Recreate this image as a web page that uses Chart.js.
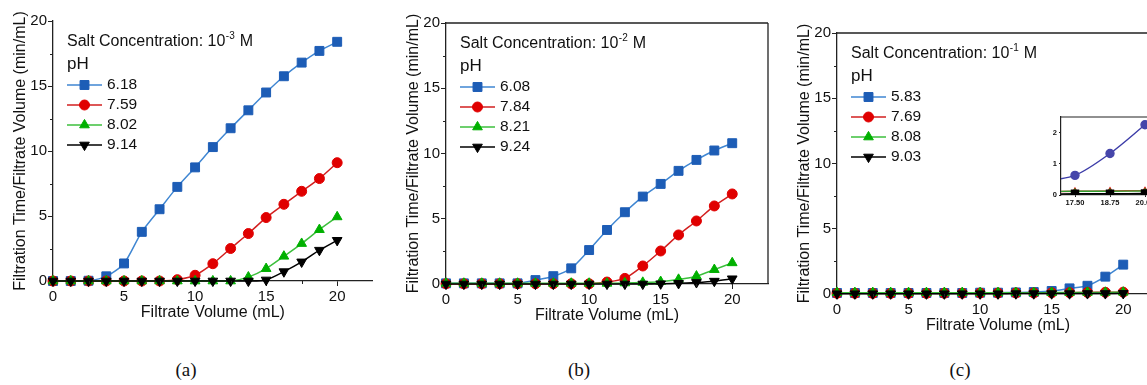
<!DOCTYPE html>
<html>
<head>
<meta charset="utf-8">
<script src="https://cdn.jsdelivr.net/npm/chart.js@4.4.1/dist/chart.umd.min.js"></script>
<style>
  html, body { margin: 0; padding: 0; background: #fff; overflow: hidden; width: 1147px; height: 385px; }
  canvas { position: absolute; top: 0; }
  .cap { position: absolute; top: 359px; width: 60px; margin-left: -30px; text-align: center;
         font-family: "Liberation Serif", serif; font-size: 19px; line-height: 22px; color: #111; }
</style>
</head>
<body>
<canvas id="chartA" width="380" height="330" style="left:0px"></canvas>
<canvas id="chartB" width="400" height="330" style="left:380px"></canvas>
<canvas id="chartC" width="400" height="340" style="left:780px"></canvas>
<canvas id="chartInset" width="170" height="112" style="left:1030px;top:100px"></canvas>
<div class="cap" style="left:186px">(a)</div>
<div class="cap" style="left:579px">(b)</div>
<div class="cap" style="left:960px">(c)</div>

<script>
// filtrate volume (mL) at each reading
var volume = [0, 1.25, 2.5, 3.75, 5, 6.25, 7.5, 8.75, 10, 11.25, 12.5, 13.75, 15, 16.25, 17.5, 18.75, 20];

// 10^-3 M salt
var phA = ['6.18', '7.59', '8.02', '9.14'];
var a1 = [0, 0, 0.02, 0.36, 1.35, 3.78, 5.52, 7.24, 8.74, 10.3, 11.75, 13.13, 14.5, 15.75, 16.8, 17.7, 18.4];
var a2 = [0, 0, 0, 0, 0, 0, 0, 0.1, 0.44, 1.33, 2.5, 3.65, 4.88, 5.9, 6.9, 7.88, 9.1];
var a3 = [0, 0, 0, 0, 0, 0, 0, 0, 0, 0, 0, 0.3, 0.95, 1.9, 2.88, 3.95, 4.93];
var a4 = [0, 0, 0, 0, 0, 0, 0, 0, 0, 0, 0, 0, 0.08, 0.72, 1.47, 2.37, 3.13];

// 10^-2 M salt
var phB = ['6.08', '7.84', '8.21', '9.24'];
var b1 = [0.05, 0.05, 0.05, 0.05, 0.05, 0.3, 0.6, 1.2, 2.6, 4.14, 5.5, 6.7, 7.67, 8.67, 9.51, 10.23, 10.79];
var b2 = [0.02, 0.02, 0.02, 0.02, 0.02, 0.02, 0.02, 0.02, 0.02, 0.15, 0.43, 1.38, 2.53, 3.76, 4.83, 5.98, 6.9];
var b3 = [0.05, 0.05, 0.05, 0.05, 0.05, 0.05, 0.05, 0.05, 0.05, 0.05, 0.08, 0.12, 0.18, 0.35, 0.6, 1.1, 1.62];
var b4 = [0, 0, 0, 0, 0, 0, 0, 0, 0, 0, 0, 0, 0.02, 0.05, 0.12, 0.22, 0.4];

// 10^-1 M salt
var phC = ['5.83', '7.69', '8.08', '9.03'];
var c1 = [0.08, 0.08, 0.08, 0.08, 0.08, 0.08, 0.08, 0.08, 0.1, 0.1, 0.12, 0.15, 0.23, 0.43, 0.63, 1.33, 2.25];
var c2 = [0.05, 0.05, 0.05, 0.05, 0.05, 0.05, 0.06, 0.06, 0.07, 0.07, 0.08, 0.08, 0.09, 0.1, 0.12, 0.13, 0.14];
var c3 = [0.1, 0.1, 0.1, 0.1, 0.1, 0.1, 0.1, 0.1, 0.1, 0.1, 0.1, 0.1, 0.11, 0.11, 0.12, 0.12, 0.13];
var c4 = [0.02, 0.02, 0.02, 0.02, 0.02, 0.02, 0.02, 0.02, 0.02, 0.02, 0.03, 0.03, 0.03, 0.03, 0.04, 0.04, 0.05];

// inset zooms in on the tail of the 10^-1 M run
var insetFrom = 13;

var FONT = '"Liberation Sans", Arial, sans-serif';
var INK = '#111';

var styles = [
  { line: '#3f86d2', fill: '#1d5db6', shape: 'rect', r: 6.3, rot: 0 },
  { line: '#d21f1f', fill: '#e00000', shape: 'circle', r: 5, rot: 0 },
  { line: '#3cbf3c', fill: '#00b000', shape: 'triangle', r: 5.6, rot: 0 },
  { line: '#000000', fill: '#000000', shape: 'triangle', r: 5.6, rot: 180 }
];

function makeSets(labels, series) {
  return series.map(function(ys, i) {
    var s = styles[i];
    return {
      label: labels[i],
      data: ys.map(function(y, k) { return { x: volume[k], y: y }; }),
      borderColor: s.line,
      borderWidth: 1.5,
      backgroundColor: s.fill,
      pointBackgroundColor: s.fill,
      pointBorderColor: s.fill,
      pointBorderWidth: 1,
      pointStyle: s.shape,
      pointRotation: s.rot,
      pointRadius: s.r,
      tension: 0.25,
      clip: false,
      order: 4 - i
    };
  });
}

// legend block in the upper-left of the plot
var saltLegend = {
  id: 'saltLegend',
  afterDatasetsDraw: function(chart, args, opts) {
    if (!opts.exponent) return;
    var ctx = chart.ctx, area = chart.chartArea;
    var x = area.left + 14;
    var y = area.top + 21;
    ctx.save();
    ctx.fillStyle = INK;
    ctx.textAlign = 'left';
    ctx.textBaseline = 'middle';
    ctx.font = '16px ' + FONT;
    var head = 'Salt Concentration: 10';
    ctx.fillText(head, x, y);
    var w = ctx.measureText(head).width;
    ctx.font = '10px ' + FONT;
    ctx.fillText(opts.exponent, x + w + 0.5, y - 6);
    var w2 = ctx.measureText(opts.exponent).width;
    ctx.font = '16px ' + FONT;
    ctx.fillText(' M', x + w + w2 + 1, y);
    ctx.font = '17px ' + FONT;
    ctx.fillText('pH', x, area.top + 43);

    chart.data.datasets.forEach(function(ds, i) {
      var ry = area.top + 64 + i * 20;
      ctx.strokeStyle = ds.borderColor;
      ctx.lineWidth = ds.borderWidth;
      ctx.beginPath();
      ctx.moveTo(x, ry);
      ctx.lineTo(x + 35, ry);
      ctx.stroke();
      ctx.fillStyle = ds.pointBackgroundColor;
      ctx.strokeStyle = ds.pointBorderColor;
      ctx.lineWidth = 1;
      Chart.helpers.drawPoint(ctx, {
        pointStyle: ds.pointStyle, rotation: ds.pointRotation, radius: ds.pointRadius, borderWidth: 1
      }, x + 17.5, ry);
      ctx.fillStyle = INK;
      ctx.font = '15.5px ' + FONT;
      ctx.fillText(ds.label, x + 40, ry);
    });
    ctx.restore();
  }
};

// frame lines and the short minor ticks between labelled ones
var frame = {
  id: 'frame',
  beforeDraw: function(chart, args, opts) {
    if (!opts.whiteArea) return;
    var a = chart.chartArea, ctx = chart.ctx;
    ctx.save();
    ctx.fillStyle = '#fff';
    ctx.fillRect(a.left, a.top, a.right - a.left, a.bottom - a.top);
    ctx.restore();
  },
  afterDraw: function(chart, args, opts) {
    var a = chart.chartArea, ctx = chart.ctx;
    ctx.save();
    ctx.strokeStyle = '#222';
    ctx.lineWidth = opts.width || 1.3;
    ctx.beginPath();
    if (opts.top) { ctx.moveTo(a.left, a.top); ctx.lineTo(a.right, a.top); }
    if (opts.right) { ctx.moveTo(a.right, a.top); ctx.lineTo(a.right, a.bottom); }
    ctx.stroke();
    if (opts.minor) {
      ctx.lineWidth = 1;
      ctx.beginPath();
      var ys = chart.scales.y, xs = chart.scales.x;
      for (var v = 2.5; v < 20; v += 5) {
        var py = Math.round(ys.getPixelForValue(v)) + 0.5;
        ctx.moveTo(a.left - 3, py); ctx.lineTo(a.left, py);
        var px = Math.round(xs.getPixelForValue(v)) + 0.5;
        ctx.moveTo(px, a.bottom); ctx.lineTo(px, a.bottom + 3);
      }
      ctx.stroke();
    }
    ctx.restore();
  }
};

function panel(id, labels, series, pad, exponent, box) {
  return new Chart(document.getElementById(id), {
    type: 'line',
    data: { datasets: makeSets(labels, series) },
    plugins: [frame, saltLegend],
    options: {
      responsive: false,
      animation: false,
      events: [],
      layout: { padding: pad },
      plugins: {
        legend: { display: false },
        tooltip: { enabled: false },
        saltLegend: { exponent: exponent },
        frame: { top: box.top, right: box.right, minor: true }
      },
      scales: {
        x: {
          type: 'linear', min: 0, max: 22.5,
          afterFit: function(s) { s.height = 40; },
          ticks: { stepSize: 5, includeBounds: false, padding: 2, color: INK, font: { family: FONT, size: 15 } },
          grid: { drawOnChartArea: false, tickLength: 5, color: '#222' },
          border: { color: '#222', width: 1.3 },
          title: { display: true, text: 'Filtrate Volume (mL)', color: INK, padding: 0,
                   font: { family: FONT, size: 16, lineHeight: 1 } }
        },
        y: {
          min: 0, max: 20,
          afterFit: function(s) { s.width = 40; },
          ticks: { stepSize: 5, padding: 1, color: INK, font: { family: FONT, size: 15 } },
          grid: { drawOnChartArea: false, tickLength: 5, color: '#222' },
          border: { color: '#222', width: 1.3 },
          title: { display: true, text: 'Filtration Time/Filtrate Volume (min/mL)', color: INK, padding: 0,
                   font: { family: FONT, size: 16, lineHeight: 1 } }
        }
      }
    }
  });
}

panel('chartA', phA, [a1, a2, a3, a4], { left: 13, right: 5, top: 21, bottom: 9 }, '-3', { top: false, right: false });
panel('chartB', phB, [b1, b2, b3, b4], { left: 26, right: 12, top: 23, bottom: 6 }, '-2', { top: true, right: true });
panel('chartC', phC, [c1, c2, c3, c4], { left: 17, right: 21, top: 33, bottom: 6 }, '-1', { top: true, right: true });

// inset: last readings of the 10^-1 M run on a finer scale
var insetStyles = [
  { line: '#3c3ca8', fill: '#4646aa', shape: 'circle', r: 4 },
  { line: '#d83030', fill: '#e00000', shape: 'triangle', r: 3 },
  { line: '#30a030', fill: '#20a020', shape: 'triangle', r: 2 },
  { line: '#000000', fill: '#000000', shape: 'rect', r: 5 }
];
var insetSets = [c1, c2, c3, c4].map(function(ys, i) {
  var s = insetStyles[i];
  return {
    data: ys.slice(insetFrom).map(function(y, k) { return { x: volume[insetFrom + k], y: y }; }),
    borderColor: s.line,
    borderWidth: 1.4,
    pointBackgroundColor: s.fill,
    pointBorderColor: s.fill,
    pointStyle: s.shape,
    pointRadius: s.r,
    tension: 0.3,
    clip: 0,
    order: 4 - i
  };
});

new Chart(document.getElementById('chartInset'), {
  type: 'line',
  data: { datasets: insetSets },
  plugins: [frame],
  options: {
    responsive: false,
    animation: false,
    events: [],
    layout: { padding: { left: 0, right: 27, top: 17, bottom: 3 } },
    plugins: {
      legend: { display: false },
      tooltip: { enabled: false },
      frame: { top: true, right: true, whiteArea: true, width: 1.2 }
    },
    scales: {
      x: {
        type: 'linear', min: 17, max: 21,
        afterFit: function(s) { s.height = 14; },
        ticks: { stepSize: 1.25, includeBounds: false, padding: 1, color: INK,
                 font: { family: FONT, size: 7.5, weight: 'bold' },
                 callback: function(v) { return v.toFixed(2); } },
        grid: { drawOnChartArea: false, tickLength: 2, color: '#222' },
        border: { color: '#222', width: 1.2 }
      },
      y: {
        min: 0, max: 2.5,
        afterFit: function(s) { s.width = 31; },
        ticks: { stepSize: 1, includeBounds: false, padding: 2, color: INK,
                 font: { family: FONT, size: 7.5, weight: 'bold' } },
        grid: { drawOnChartArea: false, tickLength: 2, color: '#222' },
        border: { color: '#222', width: 1.2 }
      }
    }
  }
});
</script>
</body>
</html>
